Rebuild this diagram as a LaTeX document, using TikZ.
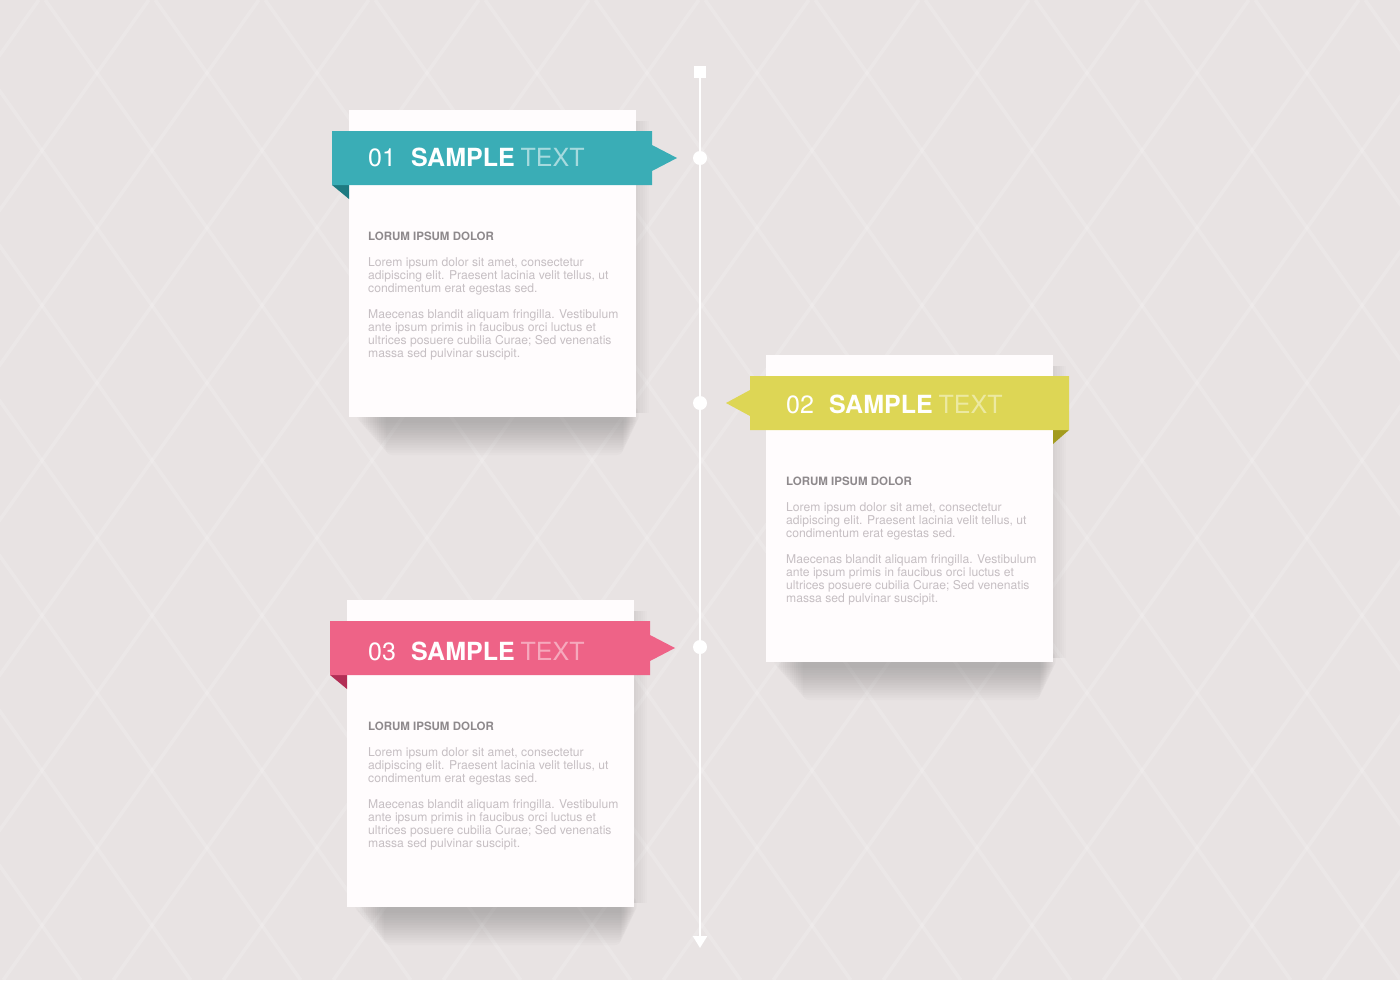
\documentclass[tikz,border=0pt]{standalone}
\usepackage{fontspec}
\setmainfont{TeX Gyre Heros}
\usetikzlibrary{arrows.meta}
\definecolor{bg}{HTML}{E8E3E3}
\definecolor{cardc}{HTML}{FFFCFD}
\definecolor{teal1}{HTML}{3AADB6}
\definecolor{teal2}{HTML}{1E7A81}
\definecolor{yel1}{HTML}{DDD655}
\definecolor{yel2}{HTML}{A39B1E}
\definecolor{pink1}{HTML}{EE6387}
\definecolor{pink2}{HTML}{B22E55}
\definecolor{headc}{HTML}{8E898C}
\definecolor{bodyc}{HTML}{C6BFC3}
\newcommand\cardtext[3]{%
  \node[headtxt] (#1h) at (#2,#3+130) {LORUM IPSUM DOLOR};
  \node[bodytxt] (#1p) at (#2,#3+156) {\parbox[t]{270pt}{Lorem ipsum dolor sit amet, consectetur\\adipiscing elit. Praesent lacinia velit tellus, ut\\condimentum erat egestas sed.}};
  \node[bodytxt] (#1q) at (#2,#3+208) {\parbox[t]{270pt}{Maecenas blandit aliquam fringilla. Vestibulum\\ante ipsum primis in faucibus orci luctus et\\ultrices posuere cubilia Curae; Sed venenatis\\massa sed pulvinar suscipit.}};
}
\newcommand\cardshadow[3]{% left, right, bottom
  \foreach \i in {1,...,14}{
    \fill[black,opacity=.014,rounded corners=6pt] ({#1+6+\i*2.2},#3-10) rectangle ({#2+4-\i*1.2},{#3+3+2.5*\i});
  }
  \foreach \i in {1,...,6}{
    \fill[black,opacity=.012] (#2-2,#3-296) rectangle ({#2+2.2*\i},#3-4);
  }
}
\begin{document}
\begin{tikzpicture}[x=1pt,y=-1pt,
  pat/.style={white,line width=3.5pt,opacity=.16},
  card/.style={fill=cardc,draw=none,inner sep=0,minimum width=287pt,minimum height=307pt,anchor=north west},
  headtxt/.style={anchor=base west,inner sep=0,text=headc,font=\fontsize{11.5}{13}\selectfont\bfseries},
  bodytxt/.style={anchor=base west,inner sep=0,text=bodyc,font=\fontsize{12.15}{13.25}\selectfont},
  ttl/.style={anchor=base west,inner sep=0,text=white,font=\fontsize{25}{28}\selectfont},
  tl/.style={white,line width=2.5pt},
  dot/.style={circle,fill=white,inner sep=0,minimum size=14pt},
  sq/.style={rectangle,fill=white,inner sep=0,minimum size=12pt}
]
\useasboundingbox (0,0) rectangle (1400,980);
\fill[bg] (0,0) rectangle (1400,980);
\begin{scope}
  \clip (0,0) rectangle (1400,980);
  \foreach \k in {-7,...,13} \draw[pat] ({45.2+110*\k},0) -- ({740.7+110*\k},980);
  \foreach \k in {-1,...,19} \draw[pat] ({148.8+110*\k},0) -- ({-546.7+110*\k},980);
\end{scope}

% timeline
\node[sq] (tltop) at (700,72) {};
\coordinate (tlend) at (700,948);
\draw[tl,-{Triangle[width=14pt,length=12pt]}] (tltop) -- (tlend);
\node[dot] (d1) at (700,158) {};
\node[dot] (d2) at (700,403) {};
\node[dot] (d3) at (700,647) {};

% card 1
\cardshadow{349}{636}{417}
\node[card] (c1) at (349,110) {};
\fill[teal2] (332,185) -- (349,185) -- (349,199) -- cycle;
\fill[teal1] (332,131) -- (652,131) -- (652,145) -- (677,158) -- (652,171) -- (652,185) -- (332,185) -- cycle;
\node[ttl] (t1) at (368,166) {01\hspace{15pt}\textbf{SAMPLE}\hspace{6pt}\textcolor{white!55!teal1}{TEXT}};
\cardtext{a}{368}{110}

% card 2
\cardshadow{766}{1053}{662}
\node[card] (c2) at (766,355) {};
\fill[yel2] (1053,430) -- (1069,430) -- (1053,444) -- cycle;
\fill[yel1] (750,376) -- (1069,376) -- (1069,430) -- (750,430) -- (750,416) -- (726,403) -- (750,390) -- cycle;
\node[ttl] (t2) at (786,413) {02\hspace{15pt}\textbf{SAMPLE}\hspace{6pt}\textcolor{white!45!yel1}{TEXT}};
\cardtext{b}{786}{355}

% card 3
\cardshadow{347}{634}{907}
\node[card] (c3) at (347,600) {};
\fill[pink2] (330,675) -- (347,675) -- (347,689) -- cycle;
\fill[pink1] (330,621) -- (650,621) -- (650,635) -- (675,648) -- (650,661) -- (650,675) -- (330,675) -- cycle;
\node[ttl] (t3) at (368,660) {03\hspace{15pt}\textbf{SAMPLE}\hspace{6pt}\textcolor{white!45!pink1}{TEXT}};
\cardtext{c}{368}{600}
\end{tikzpicture}
\end{document}
